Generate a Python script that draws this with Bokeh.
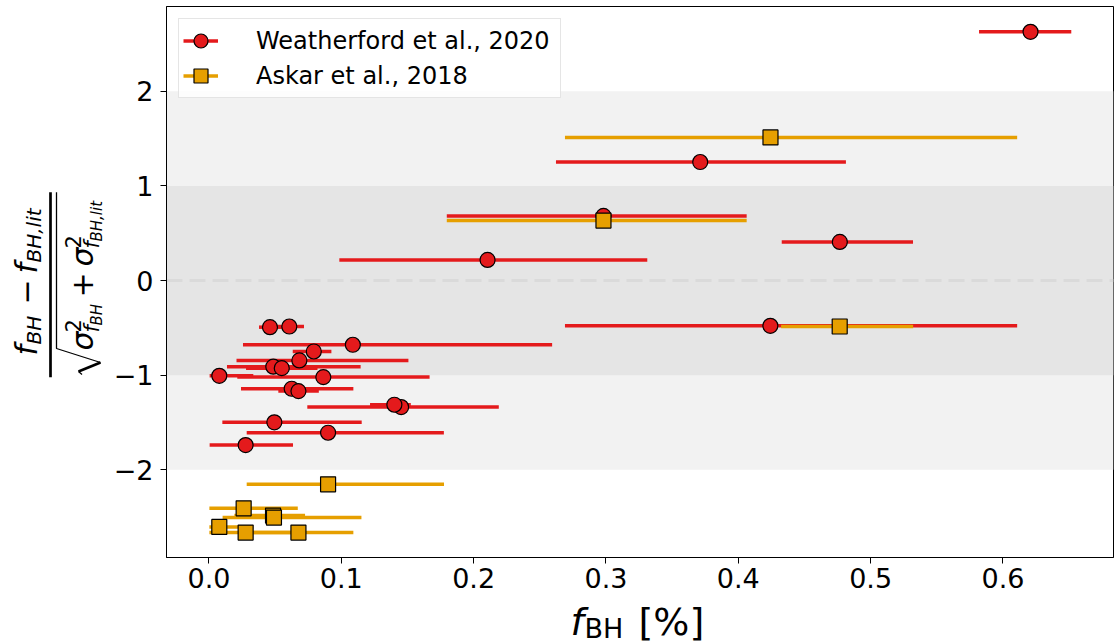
import math
from bokeh.plotting import figure
from bokeh.models import (Range1d, BoxAnnotation, Span, Legend, LegendItem,
                          FixedTicker, ColumnDataSource)
from bokeh.layouts import row, column
from bokeh.core.properties import value
from bokeh.embed import file_html
from bokeh.resources import INLINE

# ---------------- data ----------------
# Weatherford et al., 2020
w_x  = [0.0461, 0.0607, 0.1087, 0.0792, 0.0683, 0.0486, 0.0550, 0.0078, 0.0864, 0.0625, 0.0676,
        0.1452, 0.1401, 0.0494, 0.0900, 0.0277, 0.3712, 0.2981, 0.4767, 0.2105, 0.4242, 0.6208]
w_y  = [-0.493, -0.486, -0.679, -0.750, -0.845, -0.911, -0.926, -1.007, -1.021, -1.144, -1.169,
        -1.338, -1.313, -1.499, -1.609, -1.739, 1.253, 0.683, 0.408, 0.218, -0.479, 2.629]
w_lo = [0.0378, 0.0460, 0.0257, 0.0633, 0.0208, 0.0136, 0.0280, 0.0005, 0.0214, 0.0242, 0.0524,
        0.0743, 0.1217, 0.0101, 0.0285, 0.0005, 0.2622, 0.1797, 0.4328, 0.0985, 0.2690, 0.5819]
w_hi = [0.0600, 0.0718, 0.2593, 0.0925, 0.1507, 0.1146, 0.0820, 0.0335, 0.1667, 0.1091, 0.0830,
        0.2190, 0.1525, 0.1154, 0.1775, 0.0635, 0.4813, 0.4063, 0.5320, 0.3312, 0.6107, 0.6516]

# Askar et al., 2018
a_x  = [0.4243, 0.2981, 0.4766, 0.0900, 0.0262, 0.0484, 0.0491, 0.0078, 0.0277, 0.0676]
a_y  = [1.513, 0.634, -0.486, -2.154, -2.408, -2.485, -2.506, -2.605, -2.665, -2.665]
a_lo = [0.2690, 0.1797, 0.4323, 0.0285, 0.0003, 0.0192, 0.0103, 0.0003, 0.0003, 0.0242]
a_hi = [0.6107, 0.4063, 0.5321, 0.1776, 0.0671, 0.0726, 0.1152, 0.0335, 0.0635, 0.1091]

x_ticks = [0.0, 0.1, 0.2, 0.3, 0.4, 0.5, 0.6]
x_tick_labels = ["0.0", "0.1", "0.2", "0.3", "0.4", "0.5", "0.6"]
y_ticks = [-2, -1, 0, 1, 2]
y_tick_labels = ["\u22122", "\u22121", "0", "1", "2"]

labels = ["Weatherford et al., 2020", "Askar et al., 2018"]

RED = "#e41a1c"
ORANGE = "#e69f00"
FONT = "DejaVu Sans"

# page geometry (pixels): plot frame spans x 166..1113, y 6..557
W_LEFT = 110
FR_L, FR_R, FR_T, FR_B = 166, 1113, 6, 557
PAGE_W, PAGE_H = 1115, 644
MAIN_H = 599
# text glyphs are anchored at the centre of the em box; shift to put the baseline where wanted
K_BASE = 0.346

# ---------------- main figure ----------------
p = figure(width=PAGE_W - W_LEFT, height=MAIN_H, x_range=Range1d(-0.0321, 0.6835),
           y_range=Range1d(-2.928, 2.897), output_backend="svg",
           toolbar_location=None, min_border_left=FR_L - W_LEFT, min_border_right=PAGE_W - FR_R,
           min_border_top=FR_T, min_border_bottom=MAIN_H - FR_B)
p.grid.visible = False
p.background_fill_color = "white"
p.border_fill_color = "white"
p.outline_line_color = "black"
p.outline_line_width = 1
p.outline_line_alpha = 1

for ax, ticks, labs in ((p.xaxis, x_ticks, x_tick_labels), (p.yaxis, y_ticks, y_tick_labels)):
    ax.ticker = FixedTicker(ticks=ticks)
    ax.major_label_overrides = {t: l for t, l in zip(ticks, labs)}
    ax.minor_tick_line_color = None
    ax.major_tick_in = 0
    ax.major_tick_out = 6
    ax.major_tick_line_color = "black"
    ax.axis_line_color = "black"
    ax.major_label_text_font = FONT
    ax.major_label_text_font_size = "27px"
    ax.major_label_text_color = "black"
p.xaxis.major_label_standoff = 4
p.yaxis.major_label_standoff = 7

p.add_layout(BoxAnnotation(bottom=-2, top=2, fill_color="#f2f2f2", fill_alpha=1,
                           line_color=None, level="underlay"))
p.add_layout(BoxAnnotation(bottom=-1, top=1, fill_color="#e5e5e5", fill_alpha=1,
                           line_color=None, level="underlay"))
p.add_layout(Span(location=0, dimension="width", line_color="#dadada", line_width=3,
                  line_dash="16 7", level="underlay"))

ws = ColumnDataSource(dict(x=w_x, y=w_y, lo=w_lo, hi=w_hi))
as_ = ColumnDataSource(dict(x=a_x, y=a_y, lo=a_lo, hi=a_hi))

seg_w = p.segment(x0="lo", y0="y", x1="hi", y1="y", source=ws, line_color=RED, line_width=3.5)
sc_w = p.scatter("x", "y", source=ws, marker="circle", size=15, fill_color=RED,
                 line_color="black", line_width=1.2)
seg_a = p.segment(x0="lo", y0="y", x1="hi", y1="y", source=as_, line_color=ORANGE, line_width=3.5)
sc_a = p.scatter("x", "y", source=as_, marker="square", size=15, fill_color=ORANGE,
                 line_color="black", line_width=1.2)

legend = Legend(items=[LegendItem(label=labels[0], renderers=[seg_w, sc_w]),
                       LegendItem(label=labels[1], renderers=[seg_a, sc_a])],
                location="top_left", margin=12, padding=4, spacing=0,
                glyph_width=35, glyph_height=35, label_standoff=38, label_width=300,
                label_text_font=FONT, label_text_font_size="24px", label_text_color="black",
                border_line_color="#cccccc", border_line_width=1,
                background_fill_color="white", background_fill_alpha=0.8)
p.add_layout(legend)

def blank_fig(w, h, xr, yr, bl, br, bt, bb):
    f = figure(width=w, height=h, x_range=xr, y_range=yr, output_backend="svg",
               toolbar_location=None, min_border_left=bl, min_border_right=br,
               min_border_top=bt, min_border_bottom=bb, title=None,
               x_axis_location=None, y_axis_location=None)
    f.grid.visible = False
    f.outline_line_color = None
    f.background_fill_color = "white"
    f.border_fill_color = "white"
    return f

# ---------------- x label figure (data coords = page pixels, y flipped) ----------------
XF_H = PAGE_H - MAIN_H
xf = blank_fig(PAGE_W - W_LEFT, XF_H, Range1d(FR_L, FR_R), Range1d(0, XF_H),
               FR_L - W_LEFT, PAGE_W - FR_R, 0, 0)

def xtxt(items, size_px, style):
    xf.text(x=[i[0] for i in items],
            y=[PAGE_H - (i[1] - K_BASE * size_px) for i in items],
            text=[i[2] for i in items],
            text_font=value(FONT), text_font_size=f"{size_px}px", text_font_style=style,
            text_baseline="alphabetic", text_align="left", text_color="black")

# (x of text start, baseline y, text)
xtxt([(570, 634.6, "f")], 38, "italic")
xtxt([(584, 637.5, "BH")], 27, "normal")
xtxt([(638, 634.6, "[%]")], 38, "normal")

# ---------------- y label figure ----------------
lf = blank_fig(W_LEFT, PAGE_H, Range1d(0, W_LEFT), Range1d(PAGE_H - FR_B, PAGE_H - FR_T),
               0, 0, FR_T, PAGE_H - FR_B)

def ytxt(items, size_px, style):
    lf.text(x=[i[0] - K_BASE * size_px for i in items],
            y=[PAGE_H - i[1] for i in items], text=[i[2] for i in items],
            angle=math.pi / 2, text_font=value(FONT),
            text_font_size=f"{size_px}px", text_font_style=style, text_baseline="alphabetic",
            text_align="left", text_color="black")

# (baseline x, start y, text) -- text reads bottom to top
# numerator
ytxt([(36, 355, "f"), (36, 273, "f")], 30, "italic")
ytxt([(40, 344, "BH"), (40, 262, "BH,lit")], 20, "italic")
ytxt([(36, 304, "\u2212")], 30, "normal")
# denominator
ytxt([(92, 350, "\u03c3"), (92, 266, "\u03c3")], 30, "italic")
ytxt([(80, 332, "2"), (80, 248, "2")], 21, "normal")
ytxt([(99, 332, "f"), (99, 248, "f")], 21, "italic")
ytxt([(102, 325, "BH"), (102, 241, "BH,lit")], 15, "italic")
ytxt([(92, 297, "+")], 30, "normal")

# fraction bar and radical sign
lf.line(x=[50, 50], y=[PAGE_H - 191.7, PAGE_H - 376.7], line_width=2.7, line_color="black")
lf.line(x=[56, 56, 100], y=[PAGE_H - 191.7, PAGE_H - 348, PAGE_H - 362], line_width=1.3, line_color="black")
lf.line(x=[100, 78], y=[PAGE_H - 362, PAGE_H - 371], line_width=2.6, line_color="black")
lf.line(x=[78, 81.5], y=[PAGE_H - 371, PAGE_H - 374], line_width=1.3, line_color="black")

layout = row(lf, column(p, xf))
open("out.html", "w").write(file_html(layout, INLINE))
